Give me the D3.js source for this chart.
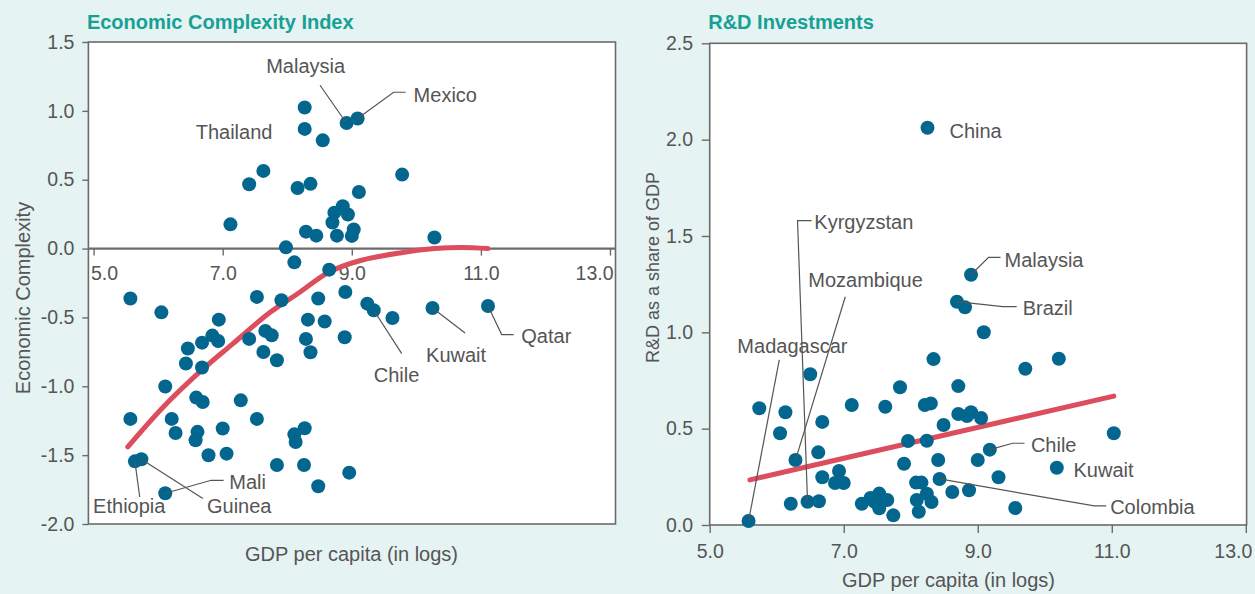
<!DOCTYPE html>
<html>
<head>
<meta charset="utf-8">
<script src="https://cdn.jsdelivr.net/npm/d3@7/dist/d3.min.js"></script>
<style>
  html, body { margin: 0; padding: 0; background: #e5f3f3; }
  svg { display: block; font-family: "Liberation Sans", Arial, sans-serif; }
</style>
</head>
<body>
<svg id="chart" width="1255" height="594"></svg>
<script>
// ---------------- DATA ----------------
// Left panel: Economic Complexity Index vs GDP per capita (logs)
const eciGdp = [8.27,8.27,8.55,8.92,9.09,7.63,7.41,8.16,8.36,9.78,9.11,7.12,8.73,8.86,8.94,8.70,8.29,8.45,8.77,9.00,9.03,10.28,7.98,8.11,8.65,
  5.57,6.05,7.53,7.91,8.48,8.90,9.24,9.34,9.63,10.25,11.11,6.94,8.32,8.58,6.84,6.93,6.68,6.46,7.41,7.66,7.76,8.29,8.89,7.63,8.36,7.84,6.43,6.68,
  6.11,6.59,6.69,7.28,5.57,6.21,7.53,7.00,6.27,6.61,6.58,8.11,8.27,8.13,6.78,7.06,5.64,5.74,7.84,8.26,8.96,6.11,8.48];
const eciValue = [1.024,0.869,0.786,0.912,0.944,0.564,0.467,0.44,0.47,0.537,0.411,0.176,0.261,0.307,0.247,0.189,0.123,0.094,0.094,0.092,0.138,0.08,0.009,-0.10,-0.153,
  -0.363,-0.463,-0.351,-0.375,-0.363,-0.315,-0.40,-0.448,-0.504,-0.431,-0.417,-0.516,-0.516,-0.53,-0.632,-0.671,-0.683,-0.726,-0.656,-0.598,-0.63,-0.656,-0.644,-0.751,-0.753,-0.811,-0.835,-0.864,
  -1.002,-1.082,-1.114,-1.102,-1.237,-1.237,-1.237,-1.307,-1.339,-1.331,-1.392,-1.349,-1.305,-1.405,-1.501,-1.489,-1.545,-1.530,-1.572,-1.572,-1.627,-1.777,-1.726];
const eciNames = ["Thailand","","","Malaysia","Mexico","","","","","","","","","","","","","","","","","","","","",
  "","","","","","","","Chile","","Kuwait","Qatar","","","","","","","","","","","","","","","",
  "","","","","","","","","","","","","","","","","","","Ethiopia","Guinea","","","","Mali",""];
// Fitted curve
const eciFitX = [5.53,6.08,6.67,7.16,7.73,8.20,8.65,9.15,9.77,10.28,10.71,11.11];
const eciFitY = [-1.44,-1.15,-0.885,-0.69,-0.465,-0.315,-0.17,-0.085,-0.03,0.0,0.008,0.0];

// Right panel: R&D as a share of GDP vs GDP per capita (logs)
const rdGdp = [8.25,8.90,8.69,8.81,9.09,8.34,10.21,9.71,6.50,7.84,8.71,5.74,6.13,7.12,7.62,8.21,8.30,6.68,6.05,11.03,8.71,8.90,8.84,9.05,
  8.49,7.96,8.24,9.18,6.28,6.62,8.41,9.00,7.90,10.18,6.68,9.31,8.43,6.93,6.87,7.00,8.08,8.16,8.62,8.87,8.24,6.21,6.46,6.63,7.27,7.40,7.53,7.46,7.65,7.53,7.74,8.09,8.12,8.31,9.56,5.58];
const rdValue = [2.062,1.299,1.159,1.130,1.0,0.861,0.863,0.811,0.782,0.715,0.721,0.606,0.585,0.623,0.614,0.623,0.631,0.535,0.476,0.476,0.576,0.585,0.566,0.555,
  0.519,0.436,0.437,0.391,0.337,0.377,0.337,0.337,0.318,0.297,0.248,0.248,0.239,0.28,0.218,0.218,0.22,0.22,0.171,0.18,0.162,0.11,0.121,0.123,0.11,0.140,0.163,0.12,0.13,0.087,0.050,0.13,0.069,0.119,0.088,0.021];
const rdNames = ["China","Malaysia","Brazil","","","","","","","","","","","","","","","","","","","","","",
  "","","","Chile","Mozambique","","","","","Kuwait","","","Colombia","","","","","","","","","","Kyrgyzstan","","","","","","","","","","","","","Madagascar"];
const rdFitX = [5.60,11.03];
const rdFitY = [0.234,0.669];

const xTickValues = [5,7,9,11,13];
const eciTicks = [1.5,1.0,0.5,0.0,-0.5,-1.0,-1.5,-2.0];
const rdTicks = [0,0.5,1.0,1.5,2.0,2.5];

// ---------------- STYLE / LAYOUT ----------------
const C = {
  bg: "#e5f3f3", title: "#17a094", text: "#555555", frame: "#6b6b6b",
  dot: "#03668f", fit: "#dc4e5e", leader: "#555555"
};
// Label layout: pixel offsets relative to the labelled dot
const eciLabels = {
  "Thailand": {dx: -109, dy: 31, anchor: "start", leader: null},
  "Malaysia": {dx: -41, dy: -50, anchor: "middle", leader: [[-26.6,-37.7],[-1,-1]]},
  "Mexico":   {dx: 56, dy: -17, anchor: "start", leader: [[48,-26.3],[36,-26.3],[0,0]]},
  "Chile":    {dx: 0, dy: 72, anchor: "start", leader: [[28,43.3],[0,0]]},
  "Kuwait":   {dx: -6.4, dy: 54, anchor: "start", leader: [[32.6,25],[0,0]]},
  "Qatar":    {dx: 33.3, dy: 36.6, anchor: "start", leader: [[25.7,28.6],[13.7,28.6],[0,0]]},
  "Mali":     {dx: 64, dy: -4.7, anchor: "start", leader: [[58.3,-13],[46,-13],[0,0]]},
  "Guinea":   {dx: 65.6, dy: 53.7, anchor: "start", leader: [[61.5,39.3],[0,0]]},
  "Ethiopia": {dx: -41.8, dy: 51.7, anchor: "start", leader: [[4.8,35.7],[0,0]]}
};
const rdLabels = {
  "China":      {dx: 22, dy: 10.6, anchor: "start", leader: null},
  "Malaysia":   {dx: 33.5, dy: -8, anchor: "start", leader: [[29.5,-17.4],[17.5,-17.4],[0,0]]},
  "Brazil":     {dx: 65.7, dy: 13.3, anchor: "start", leader: [[59.7,5],[45.8,5],[0,0]]},
  "Kyrgyzstan": {dx: 6.8, dy: -272.4, anchor: "start", leader: [[4,-281],[-10,-281],[0,0]]},
  "Mozambique": {dx: 12.8, dy: -172.7, anchor: "start", leader: [[49.8,-163.3],[0,0]]},
  "Madagascar": {dx: -11.2, dy: -167.7, anchor: "start", leader: [[30.7,-161],[0,0]]},
  "Chile":      {dx: 41.1, dy: 2, anchor: "start", leader: [[34.7,-6.4],[22.8,-6.4],[0,0]]},
  "Kuwait":     {dx: 16.7, dy: 9, anchor: "start", leader: null},
  "Colombia":   {dx: 170.6, dy: 35.3, anchor: "start", leader: [[166.6,27],[154.7,27],[0,0]]}
};

const svg = d3.select("#chart");
svg.append("rect").attr("width",1255).attr("height",594).attr("fill",C.bg);

const fmt = (d) => d.toFixed(1);   // plain hyphen-minus, as in the original
const R = 7;

function panel(opts) {
  const {frame, x, y, yTicks, gdp, vals, names, fitX, fitY, labels, title, yTitle, xTitle, zeroAxis, fitCurve} = opts;
  const g = svg.append("g");
  // plot area
  g.append("rect").attr("x",frame.l).attr("y",frame.t)
    .attr("width",frame.r-frame.l).attr("height",frame.b-frame.t)
    .attr("fill","#ffffff").attr("stroke",C.frame).attr("stroke-width",1.6);

  // y axis
  const ya = g.append("g").attr("transform",`translate(${frame.l},0)`)
    .call(d3.axisLeft(y).tickValues(yTicks).tickFormat(fmt).tickSize(opts.yTickSize).tickPadding(opts.yPad));
  ya.select(".domain").remove();
  ya.selectAll("line").attr("stroke",C.frame).attr("stroke-width",1.4);
  ya.selectAll("text").attr("fill",C.text).attr("font-size",19.5).attr("font-family","Liberation Sans, Arial, sans-serif");

  // x axis
  const axisY = zeroAxis ? y(0) : frame.b;
  if (zeroAxis) {
    g.append("line").attr("x1",frame.l).attr("x2",frame.r).attr("y1",axisY).attr("y2",axisY)
      .attr("stroke",C.frame).attr("stroke-width",2.2);
  }
  const xa = g.append("g").attr("transform",`translate(0,${axisY})`)
    .call(d3.axisBottom(x).tickValues(xTickValues).tickFormat(fmt).tickSize(opts.xTickSize).tickPadding(opts.xPad));
  xa.select(".domain").remove();
  xa.selectAll("line").attr("stroke",C.frame).attr("stroke-width",1.4);
  xa.selectAll("text").attr("fill",C.text).attr("font-size",19.5).attr("font-family","Liberation Sans, Arial, sans-serif");
  if (opts.adjustX) opts.adjustX(xa.selectAll(".tick text"));

  // fit line
  const line = d3.line().x((d,i)=>x(fitX[i])).y((d,i)=>y(fitY[i]))
    .curve(fitCurve ? d3.curveCatmullRom.alpha(0.5) : d3.curveLinear);
  g.append("path").datum(fitX).attr("d",line).attr("fill","none")
    .attr("stroke",C.fit).attr("stroke-width",5).attr("stroke-linecap","round");

  // dots
  g.append("g").selectAll("circle").data(gdp).join("circle")
    .attr("cx",(d)=>x(d)).attr("cy",(d,i)=>y(vals[i])).attr("r",R).attr("fill",C.dot);

  // labels
  const lg = g.append("g");
  names.forEach((n,i)=>{
    if (!n || !labels[n]) return;
    const L = labels[n];
    const px = x(gdp[i]), py = y(vals[i]);
    if (L.leader) {
      lg.append("polyline").attr("points", L.leader.map(p=>[px+p[0],py+p[1]].join(",")).join(" "))
        .attr("fill","none").attr("stroke",C.leader).attr("stroke-width",1.2);
    }
    lg.append("text").attr("x",px+L.dx).attr("y",py+L.dy).attr("text-anchor",L.anchor)
      .attr("fill",C.text).attr("font-size",20).text(n);
  });

  // titles
  svg.append("text").attr("x",frame.l-1.5).attr("y",28.5).attr("fill",C.title)
    .attr("font-weight","bold").attr("font-size",20).text(title);
  svg.append("text").attr("transform",`translate(${yTitle.x},${yTitle.y}) rotate(-90)`)
    .attr("text-anchor","middle").attr("fill",C.text).attr("font-size",yTitle.size).text(yTitle.text);
  svg.append("text").attr("x",xTitle.x).attr("y",xTitle.y).attr("text-anchor","middle")
    .attr("fill",C.text).attr("font-size",20).text(xTitle.text);
}

// Left panel
const frameL = {l: 88.4, r: 615.5, t: 42, b: 524};
const xL = d3.scaleLinear().domain([5,13]).range([93.6,610]);
const yL = d3.scaleLinear().domain([-2,1.5]).range([524,42]);
panel({
  frame: frameL, x: xL, y: yL, yTicks: eciTicks, gdp: eciGdp, vals: eciValue, names: eciNames,
  fitX: eciFitX, fitY: eciFitY, labels: eciLabels, fitCurve: true, zeroAxis: true,
  yTickSize: 6, yPad: 8, xTickSize: 7, xPad: 11,
  adjustX: (sel) => sel.each(function(d){
    const t = d3.select(this);
    if (d === 5) t.attr("text-anchor","start").attr("x",-3.2);
    if (d === 13) t.attr("text-anchor","end").attr("x",3);
  }),
  title: "Economic Complexity Index",
  yTitle: {x: 30, y: 298, text: "Economic Complexity", size: 20},
  xTitle: {x: 351.5, y: 561, text: "GDP per capita (in logs)"}
});

// Right panel
const frameR = {l: 709.7, r: 1246.6, t: 43.3, b: 525};
const xR = d3.scaleLinear().domain([5,13]).range([709.7,1245.8]);
const yR = d3.scaleLinear().domain([0,2.5]).range([525,43.3]);
panel({
  frame: frameR, x: xR, y: yR, yTicks: rdTicks, gdp: rdGdp, vals: rdValue, names: rdNames,
  fitX: rdFitX, fitY: rdFitY, labels: rdLabels, fitCurve: false, zeroAxis: false,
  yTickSize: 8, yPad: 8.7, xTickSize: 8, xPad: 11,
  adjustX: (sel) => sel.each(function(d){
    const t = d3.select(this);
    if (d === 13) t.attr("text-anchor","end").attr("x",6);
  }),
  title: "R&D Investments",
  yTitle: {x: 658.5, y: 267.5, text: "R&D as a share of GDP", size: 18},
  xTitle: {x: 948.5, y: 587, text: "GDP per capita (in logs)"}
});
</script>
</body>
</html>
